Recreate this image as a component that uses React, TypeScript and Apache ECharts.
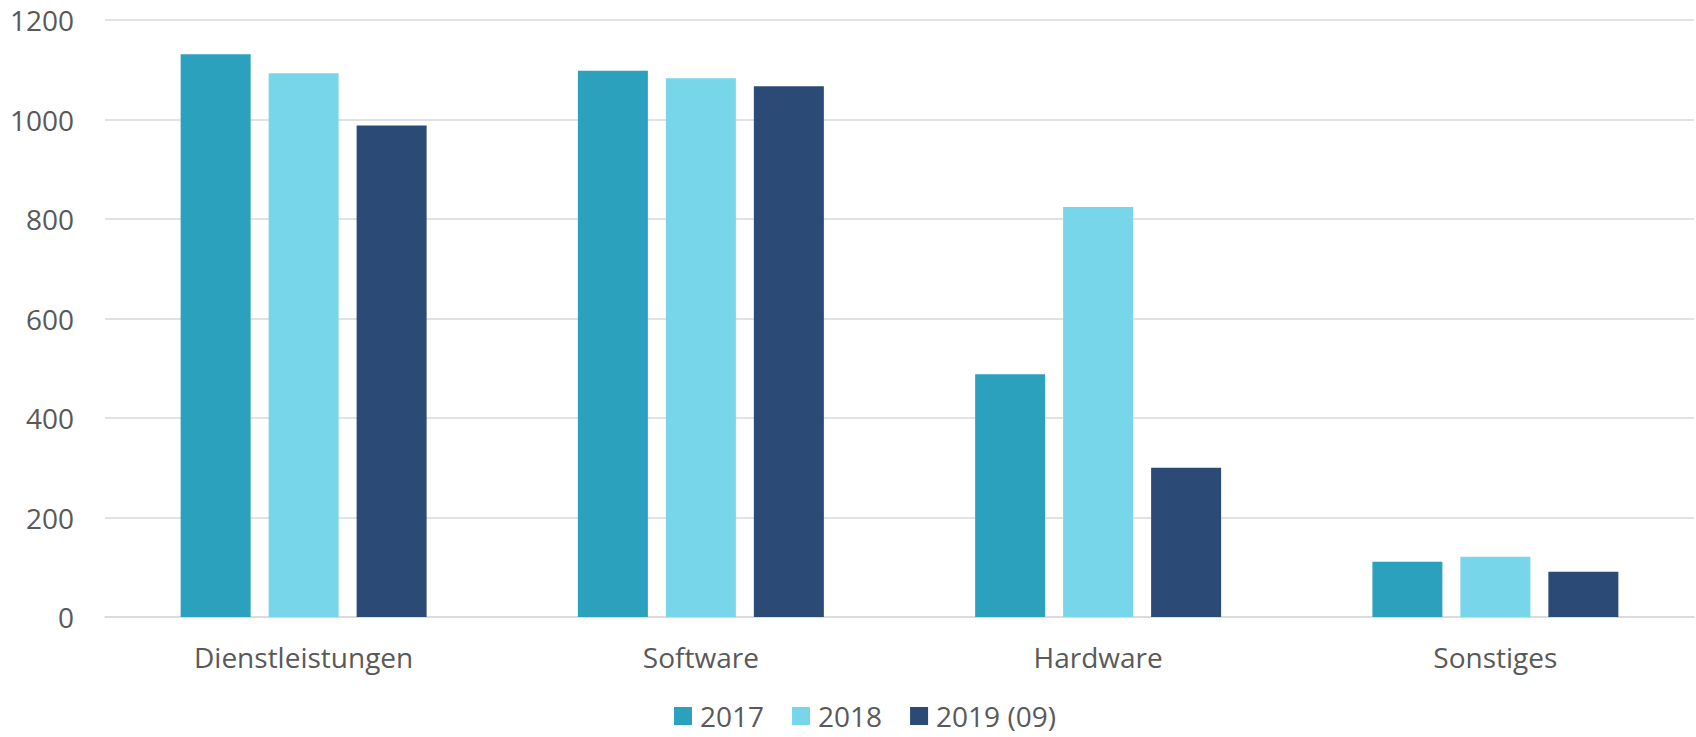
import React, { useEffect, useRef } from "react";
import * as echarts from "echarts";

const categories = ["Dienstleistungen", "Software", "Hardware", "Sonstiges"];
const seriesNames = ["2017", "2018", "2019 (09)"];
const values2017 = [1131, 1098, 488, 111];
const values2018 = [1093, 1083, 824, 121];
const values2019 = [988, 1067, 300, 91];
const yTicks = [0, 200, 400, 600, 800, 1000, 1200];
const colors = ["#2CA1BE", "#78D6EA", "#2B4B76"];

export default function App() {
  const ref = useRef<HTMLDivElement>(null);
  useEffect(() => {
    document.body.style.margin = "0";
    if (!ref.current) return;
    const chart = echarts.init(ref.current, undefined, { renderer: "svg" });
    const font = "'Open Sans', sans-serif";
    const data = [values2017, values2018, values2019];
    chart.setOption({
      animation: false,
      textStyle: { fontFamily: font },
      grid: { left: 105, right: 2, top: 20, bottom: 120, containLabel: false },
      legend: {
        data: seriesNames,
        bottom: 2,
        left: 669,
        itemWidth: 18,
        itemHeight: 18,
        itemGap: 28,
        icon: "rect",
        textStyle: { color: "#595959", fontSize: 28, fontFamily: font, padding: [0, 0, 0, 3] },
      },
      xAxis: {
        type: "category",
        data: categories,
        axisLine: { lineStyle: { color: "#D9D9D9", width: 1.5 } },
        axisTick: { show: false },
        axisLabel: { color: "#595959", fontSize: 28, fontFamily: font, margin: 26 },
      },
      yAxis: {
        type: "value",
        min: yTicks[0],
        max: yTicks[yTicks.length - 1],
        interval: 200,
        axisLine: { show: false },
        axisTick: { show: false },
        splitLine: { lineStyle: { color: "#D9D9D9", width: 1.5 } },
        axisLabel: {
          color: "#595959",
          fontSize: 28,
          fontFamily: font,
          margin: 31,
          formatter: (v: number) => String(v),
        },
      },
      series: seriesNames.map((name, i) => ({
        name,
        type: "bar",
        data: data[i],
        barWidth: 70,
        barGap: "25.7%",
        itemStyle: { color: colors[i] },
      })),
    });
    return () => chart.dispose();
  }, []);
  return <div ref={ref} style={{ width: 1696, height: 737 }} />;
}
